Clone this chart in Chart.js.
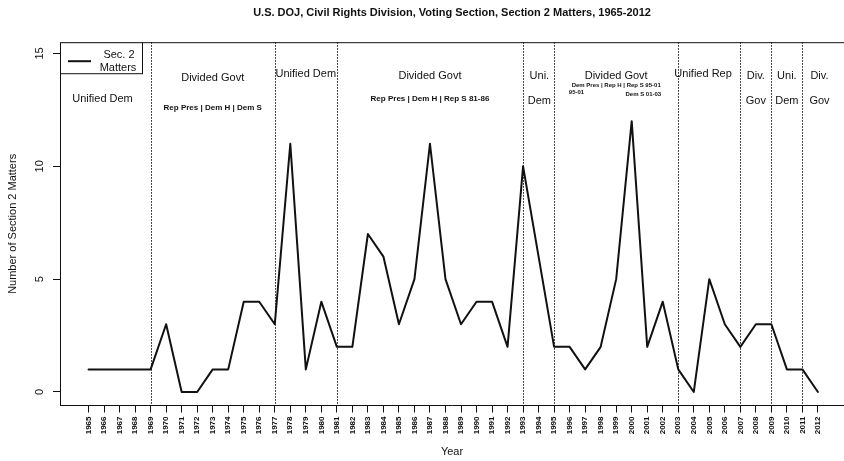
<!DOCTYPE html>
<html>
<head>
<meta charset="utf-8">
<script src="https://cdn.jsdelivr.net/npm/chart.js@4.4.1/dist/chart.umd.min.js"></script>
<style>
html, body { margin: 0; padding: 0; background: #fff; overflow: hidden; }
canvas { display: block; }
</style>
</head>
<body>
<canvas id="section2Chart" width="844" height="461"></canvas>
<script>
var years = [1965, 1966, 1967, 1968, 1969, 1970, 1971, 1972, 1973, 1974, 1975, 1976,
    1977, 1978, 1979, 1980, 1981, 1982, 1983, 1984, 1985, 1986, 1987, 1988,
    1989, 1990, 1991, 1992, 1993, 1994, 1995, 1996, 1997, 1998, 1999, 2000,
    2001, 2002, 2003, 2004, 2005, 2006, 2007, 2008, 2009, 2010, 2011, 2012];
var matters = [1, 1, 1, 1, 1, 3, 0, 0, 1, 1, 4, 4,
    3, 11, 1, 4, 2, 2, 7, 6, 3, 5, 11, 5,
    3, 4, 4, 2, 10, 6, 2, 2, 1, 2, 5, 12,
    2, 4, 1, 0, 5, 3, 2, 3, 3, 1, 1, 0];
var yTicks = [0, 5, 10, 15];
// years where control of government changed
var breakYears = [1969, 1977, 1981, 1993, 1995, 2003, 2007, 2009, 2011];

var fontFamily = "'Liberation Sans', Arial, Helvetica, sans-serif";
var ink = '#111';

// period labels, placed in data units
var periodText = [
    { text: 'Unified Dem', x: 1965.9, y: 13.0, size: 11 },
    { text: 'Divided Govt', x: 1973, y: 13.9, size: 11 },
    { text: 'Rep Pres | Dem H | Dem S', x: 1973, y: 12.6, size: 8, bold: true },
    { text: 'Unified Dem', x: 1979, y: 14.1, size: 11 },
    { text: 'Divided Govt', x: 1987, y: 14.0, size: 11 },
    { text: 'Rep Pres | Dem H | Rep S 81-86', x: 1987, y: 13.0, size: 8, bold: true },
    { text: 'Uni.', x: 1994.05, y: 14.0, size: 11 },
    { text: 'Dem', x: 1994.05, y: 12.9, size: 11 },
    { text: 'Divided Govt', x: 1999, y: 14.0, size: 11 },
    { text: 'Dem Pres | Rep H | Rep S 95-01', x: 1999, y: 13.6, size: 6, bold: true },
    { text: '95-01', x: 1995.95, y: 13.27, size: 6, bold: true, align: 'left' },
    { text: 'Dem S 01-03', x: 2001.9, y: 13.2, size: 6, bold: true, align: 'right' },
    { text: 'Unified Rep', x: 2004.6, y: 14.1, size: 11 },
    { text: 'Div.', x: 2008, y: 14.0, size: 11 },
    { text: 'Gov', x: 2008, y: 12.9, size: 11 },
    { text: 'Uni.', x: 2010, y: 14.0, size: 11 },
    { text: 'Dem', x: 2010, y: 12.9, size: 11 },
    { text: 'Div.', x: 2012.1, y: 14.0, size: 11 },
    { text: 'Gov', x: 2012.1, y: 12.9, size: 11 }
];

var govPeriods = {
    id: 'govPeriods',
    beforeDatasetsDraw: function (chart) {
        var c = chart.ctx, a = chart.chartArea, xs = chart.scales.x;
        c.save();
        c.strokeStyle = ink;
        c.lineWidth = 1;
        c.setLineDash([1.5, 1.5]);
        breakYears.forEach(function (yr) {
            var px = Math.round(xs.getPixelForValue(yr)) + 0.5;
            c.beginPath();
            c.moveTo(px, a.top);
            c.lineTo(px, a.bottom);
            c.stroke();
        });
        c.setLineDash([]);
        // top edge of the box
        c.beginPath();
        c.moveTo(a.left, a.top + 0.5);
        c.lineTo(a.right, a.top + 0.5);
        c.stroke();
        c.restore();
    },
    afterDraw: function (chart) {
        var c = chart.ctx, a = chart.chartArea, xs = chart.scales.x, ys = chart.scales.y;
        c.save();
        c.fillStyle = ink;
        c.textBaseline = 'middle';
        periodText.forEach(function (t) {
            c.font = (t.bold ? 'bold ' : '') + t.size + 'px ' + fontFamily;
            c.textAlign = t.align || 'center';
            c.fillText(t.text, xs.getPixelForValue(t.x), ys.getPixelForValue(t.y));
        });
        // legend box
        c.strokeStyle = ink;
        c.lineWidth = 1;
        c.fillStyle = '#fff';
        c.fillRect(a.left, a.top, 82, 31);
        c.strokeRect(a.left + 0.5, a.top + 0.5, 82, 31);
        c.lineWidth = 2;
        c.beginPath();
        c.moveTo(a.left + 8, a.top + 19);
        c.lineTo(a.left + 31, a.top + 19);
        c.stroke();
        c.fillStyle = ink;
        c.font = '11px ' + fontFamily;
        c.textAlign = 'center';
        c.fillText('Sec. 2', a.left + 59, a.top + 13);
        c.fillText('Matters', a.left + 58, a.top + 26);
        c.restore();
    }
};

var chartCanvas = document.getElementById("section2Chart");
var section2Chart = new Chart(chartCanvas, {
    type: 'line',
    data: {
        datasets: [{
                label: 'Sec. 2 Matters',
                data: years.map(function (yr, i) { return { x: yr, y: matters[i] }; }),
                borderColor: ink,
                borderWidth: 2,
                borderJoinStyle: 'round',
                borderCapStyle: 'round',
                pointRadius: 0,
                tension: 0,
                fill: false
            }]
    },
    options: {
        responsive: false,
        animation: false,
        layout: { padding: 0 },
        plugins: {
            legend: { display: false },
            tooltip: { enabled: false },
            title: {
                display: true,
                fullSize: false,
                text: 'U.S. DOJ, Civil Rights Division, Voting Section, Section 2 Matters, 1965-2012',
                color: ink,
                font: { family: fontFamily, size: 11, weight: 'bold' },
                padding: { top: 6, bottom: 23 }
            }
        },
        scales: {
            x: {
                type: 'linear',
                min: 1963.16,
                max: 2013.68,
                afterBuildTicks: function (scale) {
                    scale.ticks = years.map(function (v) { return { value: v }; });
                },
                afterFit: function (scale) { scale.height = 55.5; },
                grid: { drawOnChartArea: false, drawTicks: true, tickLength: 7, color: ink },
                border: { display: true, color: ink, width: 1 },
                ticks: {
                    autoSkip: false,
                    minRotation: 90,
                    maxRotation: 90,
                    padding: 4,
                    color: ink,
                    font: { family: fontFamily, size: 8, weight: 'bold' },
                    callback: function (v) { return String(v); }
                },
                title: {
                    display: true,
                    text: 'Year',
                    color: ink,
                    font: { family: fontFamily, size: 11 },
                    padding: { top: 0, bottom: 2 }
                }
            },
            y: {
                min: -0.6,
                max: 15.5,
                afterBuildTicks: function (scale) {
                    scale.ticks = yTicks.map(function (v) { return { value: v }; });
                },
                afterFit: function (scale) { scale.width = 60; },
                grid: { drawOnChartArea: false, drawTicks: true, tickLength: 7, color: ink },
                border: { display: true, color: ink, width: 1 },
                ticks: {
                    minRotation: 90,
                    maxRotation: 90,
                    crossAlign: 'center',
                    padding: 7,
                    color: ink,
                    font: { family: fontFamily, size: 11 },
                    callback: function (v) { return String(v); }
                },
                title: {
                    display: true,
                    text: 'Number of Section 2 Matters',
                    color: ink,
                    font: { family: fontFamily, size: 11 },
                    padding: { top: 6, bottom: 0 }
                }
            }
        }
    },
    plugins: [govPeriods]
});
</script>
</body>
</html>
